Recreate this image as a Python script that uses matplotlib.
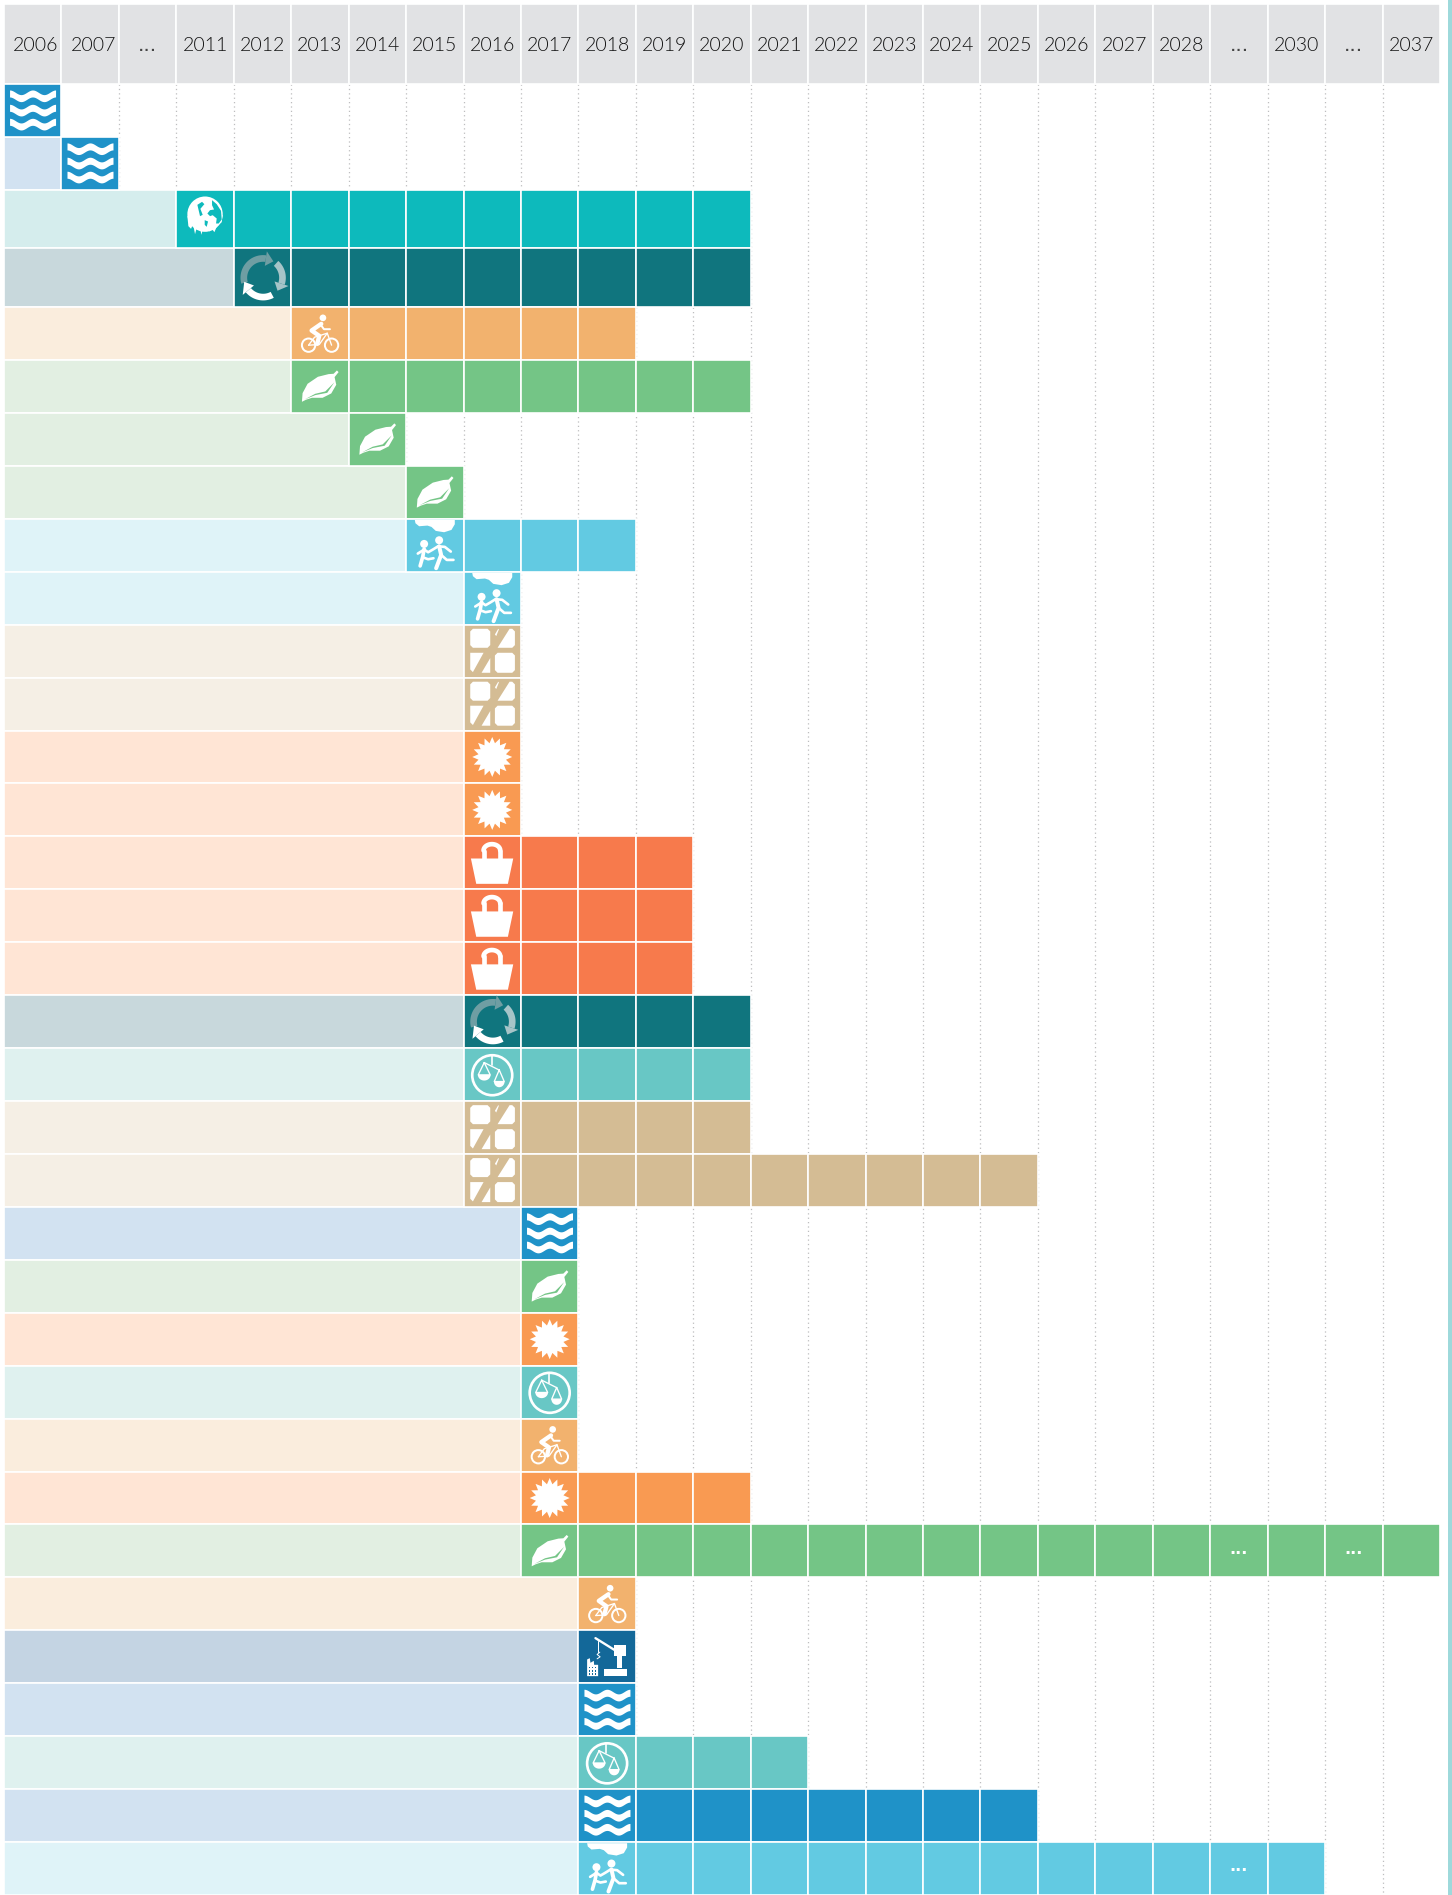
import numpy as np
import matplotlib
matplotlib.use('Agg')
import matplotlib.pyplot as plt
from matplotlib.patches import Ellipse, Polygon

years = ['2006', '2007', '...', '2011', '2012', '2013', '2014', '2015', '2016', '2017',
         '2018', '2019', '2020', '2021', '2022', '2023', '2024', '2025', '2026', '2027',
         '2028', '...', '2030', '...', '2037']

# one row per timeline entry, top to bottom
row_theme = ['water', 'water', 'globe', 'recycle', 'bike', 'leaf', 'leaf', 'leaf', 'kids', 'kids',
             'tan', 'tan', 'sun', 'sun', 'bag', 'bag', 'bag', 'recycle', 'scale', 'tan', 'tan',
             'water', 'leaf', 'sun', 'scale', 'bike', 'sun', 'leaf',
             'bike', 'crane', 'water', 'scale', 'water', 'kids']
row_start = ['2006', '2007', '2011', '2012', '2013', '2013', '2014', '2015', '2015', '2016',
             '2016', '2016', '2016', '2016', '2016', '2016', '2016', '2016', '2016', '2016', '2016',
             '2017', '2017', '2017', '2017', '2017', '2017', '2017',
             '2018', '2018', '2018', '2018', '2018', '2018']
row_end = ['2006', '2007', '2020', '2020', '2018', '2020', '2014', '2015', '2018', '2016',
           '2016', '2016', '2016', '2016', '2019', '2019', '2019', '2020', '2020', '2020', '2025',
           '2017', '2017', '2017', '2017', '2017', '2020', '2037',
           '2018', '2018', '2018', '2021', '2025', '2030']
row_heights = [1] * 34
row_heights[2] = row_heights[3] = 1.107
dots_cells = [(27, 21), (27, 23), (33, 21)]

strong = {'water': '#1f92c8', 'globe': '#0dbabc', 'recycle': '#10757e', 'bike': '#f2b26e',
          'leaf': '#74c586', 'kids': '#62cae2', 'tan': '#d4bc94', 'sun': '#f99a52',
          'bag': '#f77a4c', 'scale': '#68c7c5', 'crane': '#136899'}
pale = {'water': '#d2e2f1', 'globe': '#d5eded', 'recycle': '#c8d8dc', 'bike': '#faeddd',
        'leaf': '#e2efe2', 'kids': '#dff3f8', 'tan': '#f5efe5', 'sun': '#ffe5d5',
        'bag': '#ffe5d5', 'scale': '#dff1ef', 'crane': '#c4d4e3'}

COL_PX, ROW_PX = 57.44, 52.93
HEADER = 80 / ROW_PX
W = 'white'

fig = plt.figure(figsize=(14.52, 18.95), dpi=100)
ax = fig.add_axes([4 / 1452, 0, 1436 / 1452, 1891 / 1895])
ax.set_xlim(0, 25)
edges = np.concatenate([[0], np.cumsum(row_heights)])
ax.set_ylim(edges[-1], -HEADER)
ax.axis('off')


class Pen:
    # icon coordinates are in 1/3 px from the centre of the cell
    def __init__(self, col, y, zx, zy):
        self.x, self.y, self.zx, self.zy = col + 0.5, y, zx, zy

    def pts(self, pts):
        return [(self.x + (a - self.zx) / 3 / COL_PX, self.y + (b - self.zy) / 3 / ROW_PX) for a, b in pts]

    def poly(self, pts, color=W, z=5):
        ax.add_patch(Polygon(self.pts(pts), closed=True, fc=color, ec='none', zorder=z))

    def line(self, pts, lw, color=W, z=5):
        xy = np.array(self.pts(pts))
        ax.plot(xy[:, 0], xy[:, 1], color=color, lw=lw * 0.72 / 3, zorder=z, solid_capstyle='round', solid_joinstyle='round')

    def disc(self, a, b, r, color=W, z=5):
        c = self.pts([(a, b)])[0]
        ax.add_patch(Ellipse(c, 2 * r / 3 / COL_PX, 2 * r / 3 / ROW_PX, fc=color, ec='none', zorder=z))

    def ring(self, a, b, r, lw, color=W, z=5):
        c = self.pts([(a, b)])[0]
        ax.add_patch(Ellipse(c, 2 * r / 3 / COL_PX, 2 * r / 3 / ROW_PX, fc='none', ec=color, lw=lw * 0.72 / 3, zorder=z))


def water(col, y):
    p = Pen(col, y, 98, 330)
    t = np.linspace(30, 168, 60)
    for off in (-43, 0, 42):
        wave = 330 + off - 7 * np.cos((t - 30) / 69 * 2 * np.pi)
        top = list(zip(t, wave - 10))
        bottom = list(zip(t[::-1], (wave + 11)[::-1]))
        p.poly(top + bottom)


def globe(col, y):
    p = Pen(col, y, 87, 87)
    c = strong['globe']
    p.disc(87, 72, 53)
    p.poly([(34, 78), (37, 108), (45, 116), (51, 102), (57, 132), (64, 106), (70, 102), (76, 134), (83, 108),
            (92, 114), (100, 124), (106, 114), (115, 126), (122, 110), (137, 96), (140, 75)])
    p.poly([(108, 30), (122, 42), (135, 62), (137, 88), (128, 100), (120, 100), (122, 85), (110, 75), (102, 78),
            (94, 70), (102, 60), (114, 58), (108, 45)], c)
    p.poly([(64, 44), (78, 35), (85, 42), (73, 56), (80, 74), (72, 78)], c)
    p.poly([(86, 90), (96, 94), (92, 110), (86, 104)], c)


def arc_arrow(p, a1, a2, tip, color):
    cx, cy = 790, 833
    a = np.radians(np.linspace(a1, a2, 24))
    outer = list(zip(cx + 68 * np.cos(a), cy - 68 * np.sin(a)))
    inner = list(zip(cx + 48 * np.cos(a[::-1]), cy - 48 * np.sin(a[::-1])))
    p.poly(outer + inner, color)
    e, t = np.radians(a2), np.radians(tip)
    p.poly([(cx + 80 * np.cos(e), cy - 80 * np.sin(e)), (cx + 58 * np.cos(t), cy - 58 * np.sin(t)),
            (cx + 36 * np.cos(e), cy - 36 * np.sin(e))], color)


def recycle(col, y):
    p = Pen(col, y, 788, 833)
    arc_arrow(p, 195, 82, 58, '#6f9ea3')
    arc_arrow(p, 48, -18, -42, '#a6c4c8')
    arc_arrow(p, -62, -140, -168, W)


def bike(col, y):
    p = Pen(col, y, 120, 101)
    p.disc(129, 54, 10)
    p.ring(86, 136, 20, 6)
    p.ring(155, 136, 20, 6)
    p.line([(124, 72), (95, 92), (118, 108), (112, 132)], 13)
    p.line([(122, 74), (132, 88), (150, 88)], 6)
    p.line([(86, 136), (104, 112), (142, 100), (155, 136)], 4)
    p.line([(86, 136), (118, 134), (142, 100)], 4)


def leaf(col, y):
    p = Pen(col, y, 84, 80)
    p.poly([(30, 126), (32, 100), (47, 72), (78, 51), (110, 43), (125, 42), (135, 32), (140, 37), (128, 52),
            (133, 75), (118, 101), (92, 114), (60, 114), (42, 120)])
    p.poly([(38, 119), (70, 102), (100, 95), (127, 68), (106, 99), (70, 106)], strong['leaf'], z=6)


def kids(col, y):
    p = Pen(col, y, 82, 81)
    p.poly([(22, 5), (142, 5), (142, 18), (132, 35), (110, 42), (85, 38), (72, 26), (60, 22), (35, 24), (24, 15)])
    p.disc(50, 77, 12)
    p.disc(95, 66, 12)
    p.line([(50, 92), (46, 115), (38, 143)], 11)
    p.line([(48, 118), (62, 123), (78, 120)], 8)
    p.line([(50, 94), (31, 106)], 8)
    p.line([(50, 94), (62, 102), (76, 94), (92, 84), (112, 86), (130, 100)], 8)
    p.line([(95, 84), (101, 110), (86, 150)], 12)
    p.line([(101, 110), (118, 125), (138, 125)], 8)


def tan(col, y):
    p = Pen(col, y, 158, 95)
    p.poly([(100, 28), (144, 28), (152, 36), (152, 77), (144, 85), (100, 85), (92, 77), (92, 36)])
    p.poly([(174, 85), (210, 28), (218, 28), (226, 36), (226, 77), (218, 85)])
    p.poly([(166, 45), (176, 28), (178, 30), (170, 50)])
    p.poly([(92, 100), (132, 100), (100, 158), (92, 150)])
    p.poly([(126, 160), (152, 116), (152, 160)])
    p.poly([(174, 100), (218, 100), (226, 108), (226, 152), (218, 160), (174, 160), (166, 152), (166, 108)])


def sun(col, y):
    p = Pen(col, y, 158, 411)
    ang = np.radians(np.arange(32) * 360 / 32 + 90)
    r = np.where(np.arange(32) % 2 == 0, 60, 42)
    p.poly(list(zip(158 + r * np.cos(ang), 411 - r * np.sin(ang))))


def bag(col, y):
    p = Pen(col, y, 158, 730)
    p.poly([(94, 717), (221, 717), (205, 793), (110, 793)])
    p.line([(132, 720), (132, 693)], 14)
    p.line([(182, 720), (182, 693)], 14)
    a = np.radians(np.linspace(0, 180, 24))
    p.line(list(zip(157 + 25 * np.cos(a), 693 - 19 * np.sin(a))), 14)


def scale(col, y):
    p = Pen(col, y, 82, 74)
    p.ring(82, 76, 60, 8)
    p.line([(80, 16), (80, 46)], 5)
    p.line([(58, 38), (102, 60)], 4)
    for a, b, w_, h_ in ((58, 38, 18, 37), (103, 60, 15, 35)):
        p.line([(a, b), (a - w_, b + h_), (a + w_, b + h_), (a, b)], 4)
        t = np.radians(np.linspace(180, 360, 20))
        p.poly(list(zip(a + (w_ + 1) * np.cos(t), b + h_ - 17 * np.sin(t))))


def crane(col, y):
    p = Pen(col, y, 322, 292)
    c = strong['crane']
    p.line([(287, 236), (345, 272)], 7)
    p.poly([(343, 257), (380, 257), (380, 290), (343, 290)])
    p.poly([(352, 290), (368, 290), (368, 327), (352, 327)])
    p.poly([(313, 328), (383, 328), (383, 350), (313, 350)])
    p.line([(296, 245), (296, 278)], 3)
    p.line([(300, 278), (292, 285), (301, 292), (292, 298)], 3)
    p.poly([(262, 350), (262, 300), (270, 296), (272, 310), (282, 304), (283, 316), (295, 316), (295, 350)])
    for a in (268, 277, 286):
        for b in (322, 332, 342):
            p.poly([(a, b), (a + 4, b), (a + 4, b + 5), (a, b + 5)], c, z=6)


draw_icon = {'water': water, 'globe': globe, 'recycle': recycle, 'bike': bike, 'leaf': leaf, 'kids': kids,
             'tan': tan, 'sun': sun, 'bag': bag, 'scale': scale, 'crane': crane}

# dotted column guides behind the rows
for i in range(2, 25):
    ax.plot([i, i], [0, edges[-1]], color='#bdbdbf', lw=0.9, ls=(0, (1, 2.5)), zorder=1)

# header
ax.barh([-HEADER / 2] * 25, [1] * 25, height=HEADER, left=np.arange(25), color='#e1e2e4', edgecolor=W, linewidth=1.2, zorder=2)
for i, label in enumerate(years):
    shift = 0.055 if i < 2 else 0
    if label == '...':
        ax.text(i + 0.5, -0.63, label, ha='center', va='baseline', fontsize=14.5, color='#444444')
    else:
        ax.text(i + 0.5 + shift, -0.63, label, ha='center', va='baseline', fontsize=14, color='#111111', family='Lato', fontweight=300)

# rows
for r, theme in enumerate(row_theme):
    first = years.index(row_start[r])
    last = years.index(row_end[r])
    mid = (edges[r] + edges[r + 1]) / 2
    h = row_heights[r]
    if first > 0:
        ax.barh(mid, first, height=h, left=0, color=pale[theme], edgecolor=W, linewidth=1.2, zorder=2)
    cols = np.arange(first, last + 1)
    ax.barh([mid] * len(cols), [1] * len(cols), height=h, left=cols, color=strong[theme], edgecolor=W, linewidth=1.2, zorder=3)
    draw_icon[theme](first, mid)

for r, c in dots_cells:
    ax.text(c + 0.5, (edges[r] + edges[r + 1]) / 2 + 0.05, '...', ha='center', va='baseline', fontsize=11.5, fontweight='bold', color=W, zorder=6)

# thin stripe down the right edge
fig.patches.append(plt.Rectangle((1448 / 1452, 0), 4 / 1452, 1, transform=fig.transFigure, fc='#9ed9db', ec='none'))

fig.savefig('out.png', dpi=100, facecolor='white')
